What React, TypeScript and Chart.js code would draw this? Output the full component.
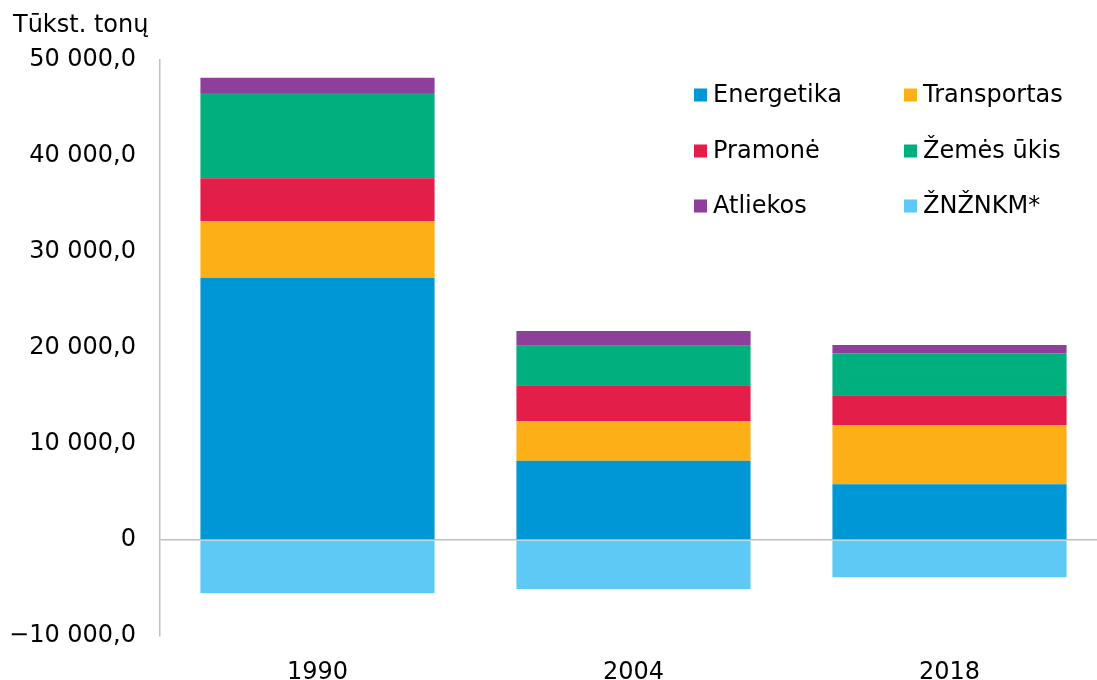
import React, { useEffect, useRef } from "react";
import { Chart, registerables } from "chart.js";

Chart.register(...registerables);

const categories = ["1990", "2004", "2018"];
const seriesNames = ["Energetika", "Transportas", "Pramonė", "Žemės ūkis", "Atliekos", "ŽNŽNKM*"];
const energetika = [27320, 8260, 5800];
const transportas = [5910, 4100, 6180];
const pramone = [4450, 3750, 3090];
const zemesUkis = [8890, 4130, 4380];
const atliekos = [1590, 1530, 870];
const znznkm = [-5550, -5100, -3890];
const seriesColors = ["#0097d7", "#fcaf17", "#e31e48", "#00af7d", "#8c4099", "#5fc9f5"];
const yAxisTitle = "Tūkst. tonų";
const yMin = -10000;
const yMax = 50000;
const yStep = 10000;

const FONT = "'DejaVu Sans', Verdana, sans-serif";

function formatTick(v: number): string {
  if (v === 0) return "0";
  const abs = Math.abs(v);
  const s = Math.round(abs).toString().replace(/\B(?=(\d{3})+(?!\d))/g, " ");
  return (v < 0 ? "\u2212" : "") + s + ",0";
}

const CANVAS_W = 1115;
const CANVAS_H = 680;

export default function App() {
  const ref = useRef<HTMLCanvasElement | null>(null);

  useEffect(() => {
    if (!ref.current) return;
    const seriesData = [energetika, transportas, pramone, zemesUkis, atliekos, znznkm];

    const legendPlugin = {
      id: "gridLegend",
      afterDraw(chart: any) {
        const ctx = chart.ctx;
        ctx.save();
        const colX = [694, 904];
        const rowY = [95, 151, 206];
        const box = 13;
        ctx.font = `24px ${FONT}`;
        ctx.textBaseline = "middle";
        ctx.textAlign = "left";
        chart.data.datasets.forEach((ds: any, i: number) => {
          const c = i % 2;
          const r = Math.floor(i / 2);
          const x = colX[c];
          const y = rowY[r];
          ctx.fillStyle = ds.backgroundColor;
          ctx.fillRect(x, y - box / 2, box, box);
          ctx.fillStyle = "#000";
          ctx.fillText(ds.label, x + 19, y + 1);
        });
        // axis title
        ctx.font = `24px ${FONT}`;
        ctx.textBaseline = "alphabetic";
        ctx.fillText(yAxisTitle, 13, 32);
        ctx.restore();
      },
    };

    const chart = new Chart(ref.current, {
      type: "bar",
      data: {
        labels: categories,
        datasets: seriesNames.map((name, i) => ({
          label: name,
          data: seriesData[i],
          backgroundColor: seriesColors[i],
          borderWidth: 0,
          categoryPercentage: 1,
          barPercentage: 0.741,
        })),
      },
      options: {
        responsive: false,
        animation: false,
        layout: { padding: { top: 60, right: CANVAS_W - 1107.5, bottom: 0, left: 0 } },
        plugins: {
          legend: { display: false },
          tooltip: { enabled: false },
          title: { display: false },
        },
        scales: {
          x: {
            stacked: true,
            grid: { display: false, drawTicks: false },
            border: { display: false },
            ticks: {
              color: "#000",
              font: { family: FONT, size: 24 },
              padding: 22,
            },
            afterFit: (s: any) => {
              s.height = 44;
            },
          },
          y: {
            stacked: true,
            min: yMin,
            max: yMax,
            ticks: {
              stepSize: yStep,
              color: "#000",
              font: { family: FONT, size: 24 },
              padding: 23.5,
              callback: (v: any) => formatTick(Number(v)),
            },
            grid: {
              drawTicks: false,
              color: (c: any) => (c.tick && c.tick.value === 0 ? "#c0c0c0" : "rgba(0,0,0,0)"),
              lineWidth: 1.5,
            },
            border: { display: true, color: "#c0c0c0", width: 1.5 },
            afterFit: (s: any) => {
              s.width = 159.5;
            },
          },
        },
      },
      plugins: [legendPlugin],
    });
    return () => chart.destroy();
  }, []);

  return (
    <div
      style={{
        position: "fixed",
        left: 0,
        top: 0,
        width: 1097,
        height: 680,
        overflow: "hidden",
        background: "#fff",
      }}
    >
      <canvas
        ref={ref}
        width={CANVAS_W}
        height={CANVAS_H}
        style={{ display: "block", width: CANVAS_W, height: CANVAS_H }}
      />
    </div>
  );
}
